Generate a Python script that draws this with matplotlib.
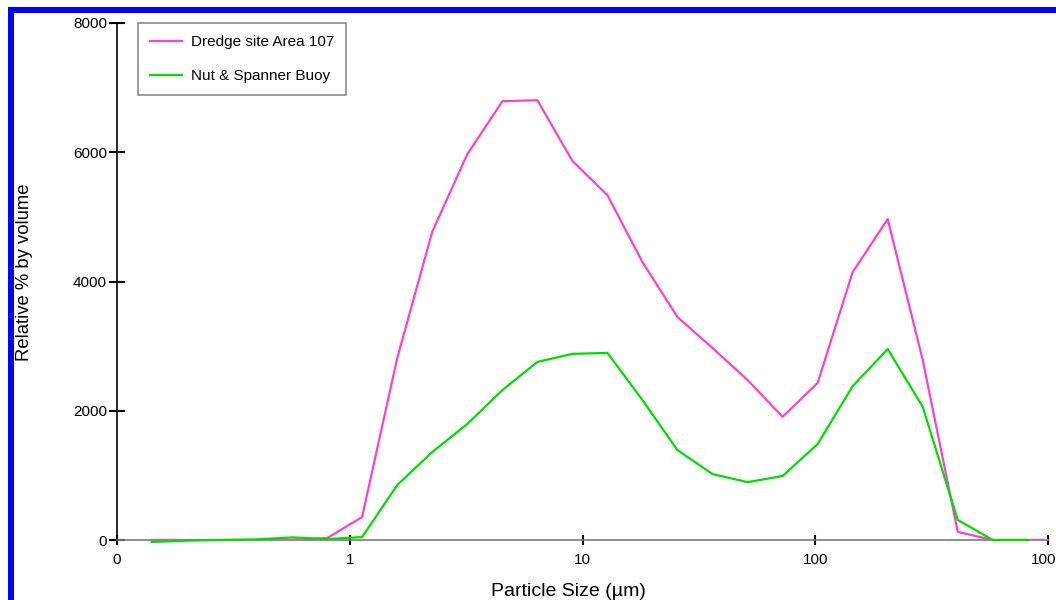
#!/usr/bin/env python3
"""Particle size distribution for two sediment sampling sites."""

import matplotlib
matplotlib.use("Agg")
import matplotlib.pyplot as plt
from matplotlib.patches import Rectangle
from matplotlib.ticker import FixedLocator, FixedFormatter, NullLocator

plt.rcParams["font.family"] = ["Liberation Sans", "DejaVu Sans"]

# Size classes (um), sqrt(2) steps
sizes = [0.141, 0.2, 0.283, 0.4, 0.566, 0.8, 1.13, 1.6, 2.26, 3.2, 4.53,
         6.4, 9.05, 12.8, 18.1, 25.6, 36.2, 51.2, 72.4, 102.4, 144.8,
         204.8, 289.6, 409.6, 579.2, 819.2, 1158.0]

dredge_107 = [0, 0, 0, 0, 0, 30, 355, 2815, 4765, 5970, 6790,
              6805, 5865, 5335, 4300, 3450, 2970, 2475, 1905, 2430, 4145,
              4965, 2785, 125, 0, 0, 0]

nut_spanner = [-30, -10, 0, 10, 40, 15, 45, 850, 1360, 1795, 2320,
               2755, 2880, 2895, 2165, 1390, 1020, 895, 990, 1485, 2380,
               2955, 2060, 310, 0, 0]

x_ticks = [0.1, 1, 10, 100, 1000]
x_tick_labels = ["0", "1", "10", "100", "1000"]
y_ticks = [0, 2000, 4000, 6000, 8000]

fig = plt.figure(figsize=(10.56, 6.0), dpi=100)
ax = fig.add_axes([117 / 1056, 60 / 600, 931 / 1056, 517 / 600])

ax.plot(sizes, dredge_107, color="#ff40c8", lw=1.6, zorder=3,
        label="Dredge site Area 107")
ax.plot(sizes[:len(nut_spanner)], nut_spanner, color="#00dd00", lw=1.6,
        zorder=4, clip_on=False, label="Nut & Spanner Buoy")

ax.set_xscale("log")
ax.set_xlim(0.1, 1000)
ax.set_ylim(0, 8000)

ax.xaxis.set_major_locator(FixedLocator(x_ticks))
ax.xaxis.set_major_formatter(FixedFormatter(x_tick_labels))
ax.xaxis.set_minor_locator(NullLocator())
ax.set_yticks(y_ticks)
ax.set_yticklabels([str(v) for v in y_ticks])

ax.tick_params(axis="y", direction="inout", length=11.5, width=1.5,
               pad=1.5, labelsize=11, colors="black")
ax.tick_params(axis="x", direction="inout", length=6.5, width=1.5,
               pad=6, labelsize=11, colors="black")

for side in ("top", "right"):
    ax.spines[side].set_visible(False)
ax.spines["left"].set_color("black")
ax.spines["left"].set_linewidth(1.2)
ax.spines["bottom"].set_color("#7a7a7a")
ax.spines["bottom"].set_linewidth(1.2)

ax.set_xlabel("Particle Size (\u00b5m)", fontsize=14, va="center")
ax.xaxis.set_label_coords((568 - 117) / 931, (540 - 591) / 517)
ax.set_ylabel("Relative % by volume", fontsize=13.3, va="center")
ax.yaxis.set_label_coords((25 - 117) / 931, (540 - 272) / 517)

leg = ax.legend(loc="upper left", bbox_to_anchor=(21 / 931, 1.0),
                borderaxespad=0, fontsize=11, frameon=True, fancybox=False,
                handlelength=2.05, handletextpad=0.6, borderpad=0.8,
                labelspacing=1.3)
leg.get_frame().set_edgecolor("#606060")
leg.get_frame().set_linewidth(1.1)

# blue surround, running off the right and bottom edges
fig.add_artist(Rectangle((11.2 / 1056, -0.2), 1.3, 0.2 + (600 - 10.3) / 600,
                         transform=fig.transFigure, fill=False,
                         edgecolor="#0000ff", linewidth=4.3, clip_on=False))

fig.savefig("out.png", dpi=100)
